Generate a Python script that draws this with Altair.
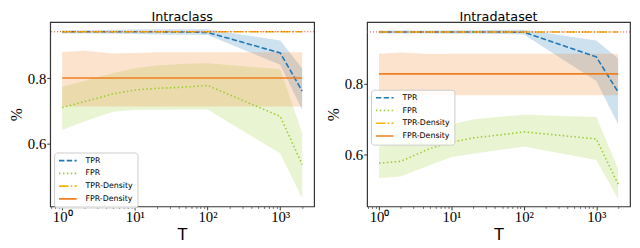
import altair as alt
import pandas as pd

# ---------------- data ----------------
T = [1, 2, 5, 10, 20, 50, 100, 1000, 2000]
series_names = ["TPR", "FPR", "TPR-Density", "FPR-Density"]
band_names = ["TPR", "FPR", "FPR-Density"]

# Intraclass panel
ic_tpr = [0.943, 0.943, 0.943, 0.943, 0.943, 0.942, 0.941, 0.878, 0.761]
ic_tpr_lo = [0.938, 0.938, 0.937, 0.936, 0.935, 0.934, 0.933, 0.842, 0.703]
ic_tpr_hi = [0.948, 0.948, 0.949, 0.950, 0.951, 0.951, 0.951, 0.916, 0.830]
ic_fpr = [0.710, 0.728, 0.752, 0.764, 0.769, 0.773, 0.778, 0.683, 0.535]
ic_fpr_lo = [0.641, 0.667, 0.697, 0.703, 0.703, 0.704, 0.704, 0.569, 0.431]
ic_fpr_hi = [0.774, 0.792, 0.816, 0.831, 0.839, 0.845, 0.846, 0.828, 0.632]
ic_tprd = [0.943, 0.943, 0.943, 0.943, 0.943, 0.943, 0.943, 0.943, 0.943]
ic_fprd = [0.801, 0.801, 0.801, 0.801, 0.801, 0.801, 0.801, 0.801, 0.801]
ic_fprd_lo = [0.713, 0.713, 0.713, 0.713, 0.713, 0.713, 0.713, 0.713, 0.713]
ic_fprd_hi = [0.881, 0.885, 0.876, 0.878, 0.880, 0.880, 0.880, 0.880, 0.880]
ic_ref = 0.943

# Intradataset panel
id_tpr = [0.945, 0.945, 0.945, 0.945, 0.945, 0.945, 0.944, 0.875, 0.776]
id_tpr_lo = [0.941, 0.941, 0.941, 0.940, 0.940, 0.939, 0.938, 0.807, 0.685]
id_tpr_hi = [0.949, 0.949, 0.949, 0.950, 0.950, 0.951, 0.951, 0.921, 0.870]
id_fpr = [0.576, 0.581, 0.617, 0.635, 0.647, 0.656, 0.664, 0.644, 0.517]
id_fpr_lo = [0.534, 0.538, 0.570, 0.593, 0.602, 0.614, 0.623, 0.585, 0.476]
id_fpr_hi = [0.622, 0.636, 0.666, 0.685, 0.699, 0.707, 0.712, 0.706, 0.560]
id_tprd = [0.945, 0.945, 0.945, 0.945, 0.945, 0.945, 0.945, 0.945, 0.945]
id_fprd = [0.827, 0.827, 0.827, 0.827, 0.827, 0.827, 0.827, 0.827, 0.827]
id_fprd_lo = [0.767, 0.767, 0.767, 0.767, 0.767, 0.767, 0.767, 0.767, 0.767]
id_fprd_hi = [0.884, 0.887, 0.883, 0.884, 0.884, 0.884, 0.884, 0.884, 0.884]
id_ref = 0.945

x_major = [1, 10, 100, 1000]
x_minor = [0.7, 0.8, 0.9, 2, 3, 4, 5, 6, 7, 8, 9, 20, 30, 40, 50, 60, 70, 80, 90,
           200, 300, 400, 500, 600, 700, 800, 900, 2000]
y_ticks = [0.6, 0.8]

# ---------------- styles ----------------
line_colors = ["#1f77b4", "#9acd32", "#f4b400", "#f07f20"]
band_colors = ["#1f77b4", "#9acd32", "#f07f20"]
dashes = [[5.5, 2.4], [1.5, 2.5], [9.6, 2.4, 1.5, 2.4], [1, 0]]
X_DOMAIN = [0.684, 2924]
SERIF = "Liberation Serif"


def panel(title, tpr, tpr_lo, tpr_hi, fpr, fpr_lo, fpr_hi, tprd, fprd,
          fprd_lo, fprd_hi, ref, ydom, width, lx, ly):
    line_rows = []
    for name, vals in zip(series_names, [tpr, fpr, tprd, fprd]):
        for t, v in zip(T, vals):
            line_rows.append({"T": t, "v": v, "series": name})
    line_df = pd.DataFrame(line_rows)

    band_rows = []
    for name, lo, hi in zip(band_names, [tpr_lo, fpr_lo, fprd_lo], [tpr_hi, fpr_hi, fprd_hi]):
        for t, a, b in zip(T, lo, hi):
            band_rows.append({"T": t, "lo": a, "hi": b, "series": name})
    band_df = pd.DataFrame(band_rows)

    xscale = alt.Scale(type="log", domain=X_DOMAIN, nice=False)
    yscale = alt.Scale(domain=ydom, nice=False, zero=False)
    yaxis = alt.Axis(values=y_ticks, format=".1f", title="%", tickSize=3.5,
                     labelPadding=1, titlePadding=3, titleFont=SERIF,
                     titleFontSize=16, titleFontWeight="normal",
                     labelFont=SERIF, labelFontSize=15)
    major_axis = alt.Axis(values=x_major, title="T", tickSize=3.5, labelPadding=0,
                          orient="bottom", labelFont=SERIF, labelFontSize=15,
                          labelExpr="'10' + ['⁰','¹','²','³'][round(log(datum.value)/LN10)]",
                          titleFont="DejaVu Sans", titleFontSize=16,
                          titleFontWeight="normal", titlePadding=2)
    minor_axis = alt.Axis(values=x_minor, title=None, labels=False, tickSize=2,
                          orient="bottom", tickWidth=0.7)

    leg = alt.Legend(orient="none", legendX=lx, legendY=ly, title=None,
                     fillColor="rgba(255,255,255,0.85)", strokeColor="#cccccc",
                     cornerRadius=3, padding=4, labelFont="DejaVu Sans",
                     labelFontSize=8, symbolType="stroke", symbolSize=324,
                     symbolStrokeWidth=1.6, labelOffset=8, rowPadding=4,
                     clipHeight=8.5)

    bands = alt.Chart(band_df).mark_area(opacity=0.22).encode(
        x=alt.X("T:Q", scale=xscale, axis=major_axis),
        y=alt.Y("lo:Q", scale=yscale, axis=yaxis),
        y2="hi:Q",
        fill=alt.Fill("series:N", scale=alt.Scale(domain=band_names, range=band_colors),
                      legend=None),
    )
    lines = alt.Chart(line_df).mark_line(strokeWidth=1.6).encode(
        x=alt.X("T:Q", scale=xscale, axis=None),
        y=alt.Y("v:Q", scale=yscale, axis=yaxis),
        color=alt.Color("series:N", scale=alt.Scale(domain=series_names, range=line_colors),
                        legend=leg),
        strokeDash=alt.StrokeDash("series:N",
                                  scale=alt.Scale(domain=series_names, range=dashes),
                                  legend=leg),
    )
    rule = alt.Chart(pd.DataFrame({"v": [ref]})).mark_rule(
        color="#e8372c", strokeDash=[1, 2], strokeWidth=1
    ).encode(y=alt.Y("v:Q", scale=yscale, axis=yaxis))
    minor = alt.Chart(pd.DataFrame({"T": x_minor})).mark_point(opacity=0).encode(
        x=alt.X("T:Q", scale=xscale, axis=minor_axis)
    )
    return alt.layer(bands, lines, rule, minor).resolve_axis(x="independent").properties(
        width=width, height=188,
        title=alt.TitleParams(title, font="DejaVu Sans", fontSize=13,
                              fontWeight="normal", offset=-2, color="black"),
    )


left = panel("Intraclass", ic_tpr, ic_tpr_lo, ic_tpr_hi, ic_fpr, ic_fpr_lo, ic_fpr_hi,
             ic_tprd, ic_fprd, ic_fprd_lo, ic_fprd_hi, ic_ref, [0.406, 0.973], 269, 4, 133)
right = panel("Intradataset", id_tpr, id_tpr_lo, id_tpr_hi, id_fpr, id_fpr_lo, id_fpr_hi,
              id_tprd, id_fprd, id_fprd_lo, id_fprd_hi, id_ref, [0.454, 0.973], 268, 4, 69)

chart = alt.hconcat(left, right, spacing=9).resolve_scale(
    x="independent", y="independent", color="independent",
    strokeDash="independent", fill="independent"
).resolve_legend(color="independent", strokeDash="independent").properties(
    padding={"left": 0, "top": 0, "right": 0, "bottom": 0}
).configure_view(stroke="#333333", strokeWidth=1.2).configure_axis(
    grid=False, domain=False, labelColor="black", tickColor="#333333",
    titleColor="black"
)

chart.save("out.html", embed_options={"renderer": "svg", "actions": False})
